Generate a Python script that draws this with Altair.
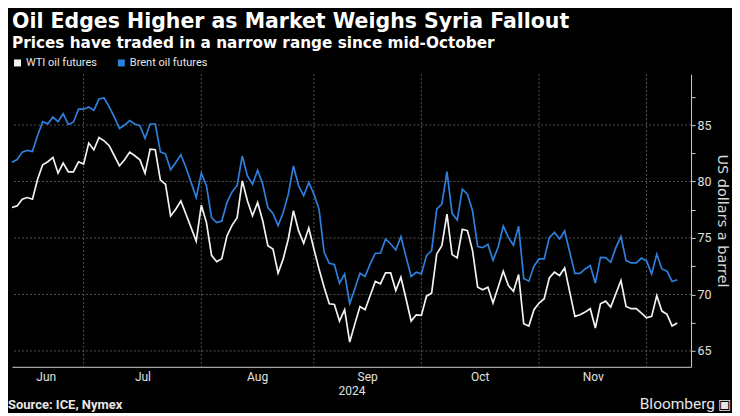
import altair as alt
import pandas as pd

# Trading-day index (0 = 11 Jun 2024 ... 130 = 10 Dec 2024)
wti = [77.7, 77.84, 78.43, 78.58, 78.43, 80.2, 81.48, 81.75, 82.13, 80.74,
       81.63, 80.86, 80.86, 81.75, 81.54, 83.4, 82.8, 83.9, 83.6, 83.17,
       82.28, 81.39, 81.92, 82.6, 82.28, 81.92, 80.74, 82.87, 82.81, 80.12,
       79.76, 76.95, 77.54, 78.28, 77.1, 75.92, 74.73, 77.9, 76.36, 73.46,
       72.9, 73.17, 75.18, 76.12, 76.8, 80.06, 78.29, 76.97, 78.15, 76.53,
       74.32, 74.03, 71.88, 73.15, 74.91, 77.41, 75.65, 74.53, 75.88, 74.03,
       72.26, 70.65, 69.18, 69.12, 67.65, 68.65, 65.79, 67.4, 68.94, 68.65,
       69.91, 71.15, 70.94, 71.91, 71.91, 70.35, 71.53, 69.62, 67.65, 68.2,
       68.15, 69.85, 70.12, 73.59, 74.32, 77.12, 73.53, 73.24, 75.77, 75.65,
       73.88, 70.65, 70.41, 70.65, 69.24, 70.65, 72.06, 70.79, 70.29, 71.76,
       67.41, 67.21, 68.65, 69.24, 69.62, 71.47, 71.97, 71.68, 72.35, 70.21,
       68.06, 68.21, 68.44, 68.74, 67.03, 69.18, 69.41, 68.88, 70.06, 71.24,
       68.94, 68.74, 68.74, 68.35, 67.94, 68.06, 69.91, 68.53, 68.24, 67.21,
       67.47]
brent = [81.7, 81.95, 82.6, 82.75, 82.66, 84.07, 85.3, 85.1, 85.7, 85.3,
         86.0, 85.05, 85.25, 86.4, 86.4, 86.6, 86.3, 87.3, 87.4, 86.6,
         85.7, 84.7, 85.0, 85.4, 85.09, 84.94, 83.82, 85.09, 85.09, 82.63,
         82.43, 81.04, 81.69, 82.37, 81.24, 79.91, 78.58, 80.74, 79.62, 76.8,
         76.36, 76.5, 78.14, 79.08, 79.65, 82.26, 80.5, 79.76, 81.0, 79.76,
         77.7, 77.18, 76.09, 77.26, 78.88, 81.38, 79.62, 78.74, 79.91, 78.88,
         77.56, 73.74, 72.76, 72.65, 71.0, 71.82, 69.2, 70.5, 71.88, 71.59,
         72.71, 73.65, 73.65, 74.91, 74.47, 73.94, 75.12, 73.35, 71.59, 71.97,
         71.82, 73.44, 73.88, 77.56, 78.0, 80.88, 77.18, 76.59, 79.32, 78.88,
         77.41, 74.24, 74.15, 74.44, 73.03, 74.2, 76.05, 75.05, 74.36, 76.05,
         71.42, 71.18, 72.5, 73.15, 73.15, 75.03, 75.5, 74.91, 75.62, 73.74,
         71.86, 71.86, 72.26, 72.56, 71.0, 73.29, 73.26, 72.85, 74.15, 75.13,
         73.0, 72.79, 72.79, 73.22, 72.97, 71.82, 73.56, 72.26, 72.06, 71.15,
         71.3]
day_index = list(range(len(wti)))

series_names = ["WTI oil futures", "Brent oil futures"]
series_colors = ["#f2f2f2", "#2e7fdc"]

month_labels = ["Jun", "Jul", "Aug", "Sep", "Oct", "Nov"]
month_label_pos = [6.6, 25.5, 47.9, 69.4, 91.4, 113.5]
month_starts = [14, 37, 59, 80, 103, 124]   # Jul 1, Aug 1, Sep 3, Oct 1, Nov 1, Dec 2
y_grid = [65, 70, 75, 80, 85]
y_ticks = [65, 67.5, 70, 72.5, 75, 77.5, 80, 82.5, 85, 87.5]

W, H = 680, 293
FONT = "Roboto"
TFONT = "DejaVu Sans"

df = pd.DataFrame({
    "idx": day_index * 2,
    "value": wti + brent,
    "series": [series_names[0]] * len(wti) + [series_names[1]] * len(brent),
})

pos_js = "[" + ",".join(str(p) for p in month_label_pos) + "]"
names_js = "[" + ",".join("'" + m + "'" for m in month_labels) + "]"

xscale = alt.Scale(domain=[0, 132.7], nice=False, zero=False)
yscale = alt.Scale(domain=[63.6, 89.5], nice=False, zero=False)

xaxis = alt.Axis(values=month_label_pos,
                 labelExpr=names_js + "[indexof(" + pos_js + ", datum.value)]",
                 ticks=False, grid=False, title="2024",
                 domainColor="#cfcfcf", domainWidth=1,
                 labelColor="#e0e0e0", labelFontSize=12, labelFont=FONT,
                 labelPadding=5, titleColor="#e0e0e0", titleFontSize=12,
                 titleFont=FONT, titleFontWeight="normal", titlePadding=3)
yaxis = alt.Axis(orient="right", values=y_ticks,
                 labelExpr="datum.value % 5 === 0 ? datum.label : ''",
                 grid=False, tickSize=4, tickColor="#cfcfcf",
                 domainColor="#cfcfcf", domainWidth=1,
                 labelColor="#e0e0e0", labelFontSize=12.5, labelFont=FONT,
                 labelPadding=2, title="US dollars a barrel",
                 titleColor="#d9d9d9", titleFontSize=14.5, titleFont=TFONT,
                 titleFontWeight="normal", titlePadding=3)

X = alt.X("idx:Q", scale=xscale, axis=xaxis)
Y = alt.Y("value:Q", scale=yscale, axis=yaxis)

hgrid = alt.Chart(pd.DataFrame({"value": y_grid})).mark_rule(
    color="#6a6a6a", strokeDash=[2, 2], strokeWidth=0.8
).encode(y=Y)

vgrid = alt.Chart(pd.DataFrame({"idx": month_starts})).mark_rule(
    color="#6a6a6a", strokeDash=[2, 2], strokeWidth=0.8
).encode(x=X)

lines = alt.Chart(df).mark_line(strokeWidth=1.7).encode(
    x=X, y=Y,
    color=alt.Color("series:N",
                    scale=alt.Scale(domain=series_names, range=series_colors),
                    legend=alt.Legend(orient="top", title=None, symbolType="square",
                                      symbolSize=4, symbolStrokeWidth=5,
                                      labelColor="#e6e6e6", labelFontSize=11,
                                      labelFont=FONT, columnPadding=12,
                                      offset=0, padding=0, labelOffset=3)),
)

source = alt.Chart(pd.DataFrame({"t": ["Source: ICE, Nymex"]})).mark_text(
    align="left", baseline="alphabetic", font=FONT, fontSize=13,
    fontWeight="bold", color="#e6e6e6"
).encode(x=alt.value(-4), y=alt.value(H + 42), text="t:N")

brand = alt.Chart(pd.DataFrame({"t": ["Bloomberg"]})).mark_text(
    align="right", baseline="alphabetic", font=FONT, fontSize=15.5,
    color="#e6e6e6"
).encode(x=alt.value(W + 24), y=alt.value(H + 42), text="t:N")

icon = alt.Chart(pd.DataFrame({"t": ["\u25a3"]})).mark_text(
    align="left", baseline="alphabetic", font="DejaVu Sans", fontSize=14,
    color="#e6e6e6"
).encode(x=alt.value(W + 27), y=alt.value(H + 42), text="t:N")

chart = alt.layer(hgrid, vgrid, lines, source, brand, icon).properties(
    width=W, height=H,
    padding={"left": 0, "top": 3, "right": 0, "bottom": 0},
    background="#000000",
    title=alt.TitleParams(
        text="Oil Edges Higher as Market Weighs Syria Fallout",
        subtitle="Prices have traded in a narrow range since mid-October",
        anchor="start", frame="group", font=TFONT, fontSize=20.5,
        fontWeight="bold", color="#ffffff", subtitleFont=TFONT,
        subtitleFontSize=15.3, subtitleFontWeight="bold",
        subtitleColor="#ffffff", subtitlePadding=3.5, offset=6,
    ),
).configure_view(stroke=None)

chart.save("out.html", embed_options={"renderer": "svg", "actions": False})
